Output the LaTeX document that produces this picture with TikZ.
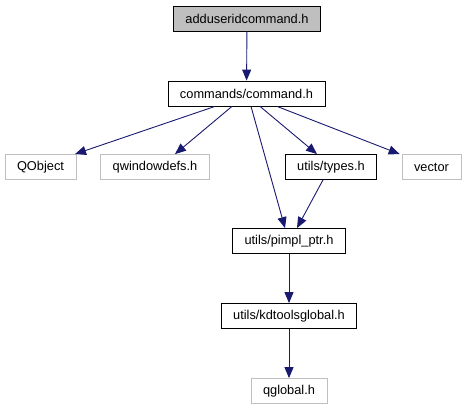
\documentclass[tikz,border=0pt]{standalone}
\usepackage{fontspec}
\setmainfont{Liberation Sans}
\usetikzlibrary{arrows.meta}
\definecolor{edgeblue}{HTML}{191970}
\definecolor{boxgray}{HTML}{BFBFBF}
\tikzset{
  file/.style={draw=black,line width=0.8pt,minimum height=25pt,inner xsep=12pt,
    font=\fontsize{12.8}{15}\selectfont},
  extfile/.style={file,draw=boxgray},
  topfile/.style={file,fill=boxgray},
  dep/.style={draw=edgeblue,line width=0.9pt,-{Triangle[length=11pt,width=9pt]}}
}
\begin{document}
\begin{tikzpicture}[x=1pt,y=-1pt]
\useasboundingbox (0,0) rectangle (466,411);

% Files
\node[topfile] (adduser) at (247,18.5) {adduseridcommand.h};
\node[file] (cmd) at (246.5,93.5) {commands/command.h};
\node[extfile] (qobject) at (40.5,167) {QObject};
\node[extfile] (qwindefs) at (155,167) {qwindowdefs.h};
\node[file] (types) at (331,167) {utils/types.h};
\node[extfile] (vector) at (431.5,167) {vector};
\node[file] (pimpl) at (289,241) {utils/pimpl\_ptr.h};
\node[file] (kdtools) at (289,316) {utils/kdtoolsglobal.h};
\node[extfile] (qglobal) at (289,391) {qglobal.h};

% Includes
\draw[dep] (adduser) -- (cmd);
\draw[dep] ([xshift=-31.5pt]cmd.south) -- ([xshift=34.5pt]qobject.north);
\draw[dep] ([xshift=-14.5pt]cmd.south) -- ([xshift=20pt]qwindefs.north);
\draw[dep] ([xshift=4.5pt]cmd.south) -- ([xshift=-4pt]pimpl.north);
\draw[dep] ([xshift=13.5pt]cmd.south) -- ([xshift=-14pt]types.north);
\draw[dep] ([xshift=30.5pt]cmd.south) -- ([xshift=-2pt]vector.north west);
\draw[dep] ([xshift=-8pt]types.south) -- ([xshift=8pt]pimpl.north);
\draw[dep] (pimpl) -- (kdtools);
\draw[dep] (kdtools) -- (qglobal);

\end{tikzpicture}
\end{document}
